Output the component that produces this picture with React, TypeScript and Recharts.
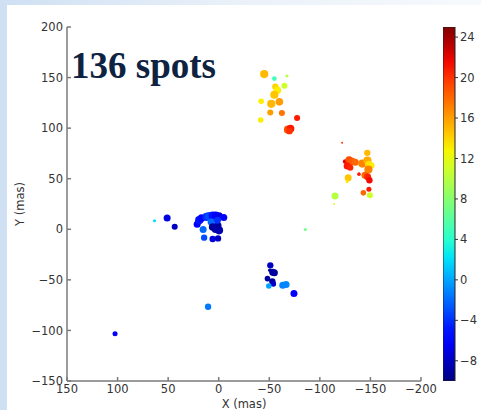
import React from 'react';
import {
  ScatterChart,
  Scatter,
  XAxis,
  YAxis,
  ZAxis,
  Cell,
  BarChart,
  Bar,
} from 'recharts';

// maser spots: offsets in mas, velocity (colour) and relative flux (marker size)
const spotX = [
  -45, -55, -67.5, -65, -56, -58, -55, -42, -52, -60, -51, -62.5, -41.5, -77.5, -68.5, -71, -70,
  -122, -146.9, -125, -129, -132, -135, -127, -130, -142, -147, -148.5, -151, -148, -138.7, -144.6,
  -147.2, -149, -128, -127, -148.5, -143, -149.5, -115, -114,
  63.5, 51, 43.5, 21.3, 19.3, 17, 12, 9.5, 6, 3, -0.3, -5, 7.5, 15.4, 6, 3, -0.3, 1, 14.4, 6, 0.7,
  1.3, 10.5, 102.5, -85.6,
  -51, -50.5, -53.4, -55, -48.2, -53, -54, -49.5, -63.3, -66.6, -74.4,
];
const spotY = [
  153.5, 149, 151.5, 142, 141, 137.5, 133, 126.5, 124, 126, 115.5, 115, 108, 110, 98.5, 99.5, 97,
  85.5, 75.6, 67, 68.5, 67, 66.3, 62.5, 61, 65, 68, 64, 63, 59, 54.5, 53.5,
  52, 48.5, 51, 47, 39.5, 36, 33.7, 33, 25,
  8.5, 11.2, 2.6, 5, 9, 11, 12.2, 13, 13.5, 13.5, 13, 11.6, 7.3, -0.3, 2.3, 0.3, -1, 3.6, -8.3, -9.6, -9,
  9, -76.6, -103.3, -0.3,
  -35.6, -40.5, -42.6, -43, -48.8, -51.5, -54, -56, -55.4, -54.5, -63.4,
];
const spotVel = [
  15, 5, 10, 11, 14, 13, 14.5, 13, 15, 16, 16, 17.5, 13, 21, 19, 21, 20,
  20, 15, 22, 19, 18.5, 18, 21, 20.5, 17, 15.5, 13.5, 13, 17, 21, 18,
  20.5, 21.5, 14.5, 13, 21, 18, 11, 10, 12,
  2, -7, -8, -6, -5, -5.5, -4, -3, -5, -6, -7, -6, -2, -2, -9, -9, -8.5, -9, -3, -7, -8,
  -4, -1.5, -6, 7,
  -8, -9.5, -9, -9, -9, -9, -8, 0, -1, -1, -6,
];
const spotFlux = [
  4.5, 2, 1.3, 2.8, 3, 4, 4.5, 2.5, 4.5, 4, 2.8, 2.8, 2.5, 2.8, 4.5, 4, 3,
  1, 3, 2, 4, 4, 3.5, 3.5, 3, 4.5, 4.5, 4, 3, 4.5, 1.5, 3.5,
  3.5, 3, 3.5, 1.3, 2.2, 2.5, 2.8, 3.5, 1,
  1.3, 3.5, 2.8, 3.5, 4.5, 4, 4.5, 4.5, 4.5, 4.5, 4, 3.5, 3.5, 3.5, 4, 4.5, 4.5, 4, 3, 3, 3,
  3.5, 3, 2.2, 1.3,
  3, 1.5, 3.5, 3.5, 2.5, 3, 2.5, 2.5, 3.5, 3.5, 3.5,
];

const xTicks = [150, 100, 50, 0, -50, -100, -150, -200];
const yTicks = [-150, -100, -50, 0, 50, 100, 150, 200];
const velRange = [-10, 25];
const velTicks = [-8, -4, 0, 4, 8, 12, 16, 20, 24];

const spots = spotX.map((x, i) => ({ x, y: spotY[i], vel: spotVel[i], flux: spotFlux[i] }));
const colorbarData = [{ name: 'v', range: velRange }];

// matplotlib "jet" colormap, t in [0, 1]
function interp(t: number, pts: number[][]) {
  for (let i = 1; i < pts.length; i++) {
    if (t <= pts[i][0]) {
      const [t0, v0] = pts[i - 1];
      const [t1, v1] = pts[i];
      return v0 + ((v1 - v0) * (t - t0)) / (t1 - t0);
    }
  }
  return pts[pts.length - 1][1];
}
function jet(t: number): string {
  const c = Math.max(0, Math.min(1, t));
  const r = interp(c, [[0, 0], [0.35, 0], [0.66, 1], [0.89, 1], [1, 0.5]]);
  const g = interp(c, [[0, 0], [0.125, 0], [0.375, 1], [0.64, 1], [0.91, 0], [1, 0]]);
  const b = interp(c, [[0, 0.5], [0.11, 1], [0.34, 1], [0.65, 0], [1, 0]]);
  const h = (v: number) => Math.round(v * 255).toString(16).padStart(2, '0');
  return `#${h(r)}${h(g)}${h(b)}`;
}
const velColor = (v: number) => jet((v - velRange[0]) / (velRange[1] - velRange[0]));

const minus = (v: number) => String(v).replace('-', '\u2212');
const tickFont = { fontSize: 11.5, fill: '#333', fontFamily: 'DejaVu Sans' };
const frame = { stroke: '#7a7a7a', strokeWidth: 1.5 };

export default function App() {
  return (
    <div
      style={{
        position: 'absolute',
        left: 0,
        top: 0,
        width: 481,
        height: 410,
        overflow: 'hidden',
        background: 'linear-gradient(to right, #cfe0f3 0%, #eaf1f9 50%, #f7fafd 100%)',
      }}
    >
      <div style={{ position: 'absolute', left: 7, top: 5, right: 0, bottom: 0, background: '#fff' }} />
      <div style={{ position: 'absolute', left: 0, top: 0 }}>
        <ScatterChart width={481} height={410} margin={{ top: 27, right: 60, left: 17, bottom: 0 }}>
          <XAxis
            type="number"
            dataKey="x"
            domain={[-200, 150]}
            reversed
            ticks={xTicks}
            tickFormatter={minus}
            tick={tickFont}
            tickSize={-4}
            tickMargin={8}
            tickLine={frame}
            axisLine={frame}
            height={29}
            allowDataOverflow
            label={{ value: 'X (mas)', position: 'insideBottom', offset: 2, style: { ...tickFont, textAnchor: 'middle' } }}
          />
          <XAxis
            xAxisId="top"
            orientation="top"
            type="number"
            domain={[-200, 150]}
            reversed
            ticks={xTicks}
            tick={false}
            tickSize={-4}
            tickLine={frame}
            axisLine={frame}
            height={0}
            allowDataOverflow
          />
          <YAxis
            type="number"
            dataKey="y"
            domain={[-150, 200]}
            ticks={yTicks}
            tickFormatter={minus}
            tick={tickFont}
            tickSize={-4}
            tickMargin={8}
            tickLine={frame}
            axisLine={frame}
            width={50}
            allowDataOverflow
            label={{ value: 'Y (mas)', angle: -90, position: 'insideLeft', offset: 3, style: { ...tickFont, textAnchor: 'middle' } }}
          />
          <YAxis
            yAxisId="right"
            orientation="right"
            type="number"
            domain={[-150, 200]}
            ticks={yTicks}
            tick={false}
            tickSize={-4}
            tickLine={frame}
            axisLine={frame}
            width={0}
            allowDataOverflow
          />
          <ZAxis type="number" dataKey="flux" domain={[1, 5]} range={[3, 60]} />
          <Scatter data={spots} isAnimationActive={false}>
            {spots.map((s, i) => (
              <Cell key={i} fill={velColor(s.vel)} />
            ))}
          </Scatter>
        </ScatterChart>
      </div>
      <div style={{ position: 'absolute', left: 443, top: 0 }}>
        <BarChart
          width={38}
          height={410}
          data={colorbarData}
          margin={{ top: 27, right: 0, left: 0, bottom: 29 }}
          barCategoryGap={0}
          barGap={0}
        >
          <defs>
            <linearGradient id="jet" x1="0" y1="1" x2="0" y2="0">
              {Array.from({ length: 21 }, (_, i) => (
                <stop key={i} offset={`${i * 5}%`} stopColor={jet(i / 20)} />
              ))}
            </linearGradient>
          </defs>
          <XAxis dataKey="name" hide />
          <YAxis
            orientation="right"
            type="number"
            domain={velRange}
            ticks={velTicks}
            tickFormatter={minus}
            tick={{ ...tickFont, textAnchor: 'start' }}
            tickSize={3}
            tickMargin={2}
            tickLine={{ stroke: '#333' }}
            axisLine={false}
            width={26}
            allowDataOverflow
          />
          <Bar dataKey="range" fill="url(#jet)" stroke="#222" strokeWidth={1} isAnimationActive={false} />
        </BarChart>
      </div>
      <div
        style={{
          position: 'absolute',
          left: 71,
          top: 44,
          fontFamily: '"Liberation Serif", serif',
          fontWeight: 'bold',
          fontSize: 37,
          lineHeight: '44px',
          color: '#0e2341',
          whiteSpace: 'nowrap',
        }}
      >
        136 spots
      </div>
    </div>
  );
}
